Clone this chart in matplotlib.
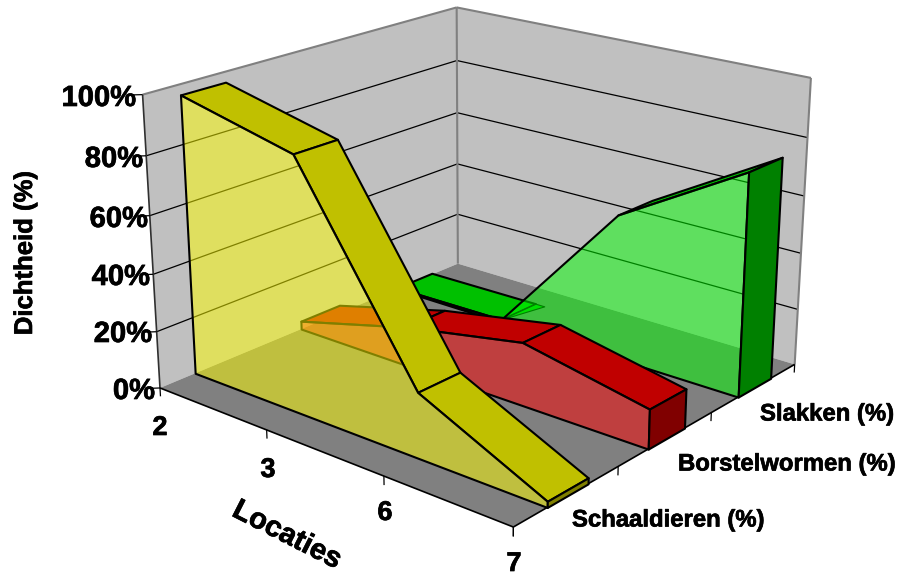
import numpy as np
import matplotlib
matplotlib.use('Agg')
import matplotlib.pyplot as plt
import matplotlib.patheffects as pe
from mpl_toolkits.mplot3d.art3d import Poly3DCollection

locations = ['2', '3', '6', '7']
series_names = ['Schaaldieren (%)', 'Borstelwormen (%)', 'Slakken (%)']
schaaldieren = [96.5, 87, 22, 2]
borstelwormen = [3, 14, 22, 13.5]
slakken = [0.5, 1, 51.5, 77]
z_ticks = [0, 20, 40, 60, 80, 100]

W, H = 898, 576
plt.rcParams['font.family'] = ['Liberation Sans', 'DejaVu Sans']
fig = plt.figure(figsize=(W/100, H/100), dpi=100, facecolor='white')
ax = fig.add_axes([(161+24.69)/W, 45.39/H, 576/W, 1], projection='3d')
ax.set_xlim(0, 3); ax.set_ylim(0, 3); ax.set_zlim(0, 100)
ax.view_init(19.91815, -50.02174, 0.02626)
ax.set_proj_type('persp', focal_length=float(np.exp(-0.42566)))
ax.set_box_aspect((1, float(np.exp(0.00498)), float(np.exp(-0.40301))), zoom=float(np.exp(0.19709)))
ax.set_axis_off()
ax.computed_zorder = False
ax.patch.set_alpha(0)
n = len(locations)
xs = np.arange(n)
zo = [1]

def poly(v, fc, ec='none', lw=0):
    c = Poly3DCollection([v], facecolors=[fc], edgecolors=[ec] if ec != 'none' else 'none', linewidths=lw, closed=True)
    c.set_zorder(zo[0]); zo[0] += 1
    c.set_clip_on(False)
    ax.add_collection3d(c, autolim=False)

def line(a, b, col='k', lw=0.9):
    ax.plot([a[0], b[0]], [a[1], b[1]], [a[2], b[2]], color=col, lw=lw, zorder=zo[0], clip_on=False,
            solid_capstyle='butt')
    zo[0] += 1

X, Y = xs[-1], n-1
# walls and floor
poly([(0, 0, 0), (0, Y, 0), (0, Y, 100), (0, 0, 100)], '#C0C0C0')
poly([(0, Y, 0), (X, Y, 0), (X, Y, 100), (0, Y, 100)], '#C0C0C0')
poly([(0, 0, 0), (X, 0, 0), (X, Y, 0), (0, Y, 0)], '#808080')
for z in z_ticks[1:-1]:
    line((0, 0, z), (0, Y, z)); line((0, Y, z), (X, Y, z))
G = '#808080'
line((0, 0, 100), (0, Y, 100), G, 1.5); line((0, Y, 100), (X, Y, 100), G, 1.5)
line((X, Y, 100), (X, Y, 0), G, 1.5); line((0, Y, 0), (0, Y, 100), G, 1.5)
line((0, 0, 0), (0, 0, 100), '#303030', 1.2)
line((0, 0, 0), (X, 0, 0), 'k', 1.2); line((X, 0, 0), (X, Y, 0), 'k', 1.2)
for z in z_ticks:
    line((0, 0, z), (-0.06, -0.06, z))
for x in xs:
    line((x, 0, 0), (x, 0, -3))
for y in range(n):
    line((X, y, 0), (X, y, -3))

front, depth = 0.31, 0.39
styles = {0: ('#C0C000', '#FFFF0080', '#808000'), 1: ('#C00000', '#FF000080', '#800000'), 2: ('#00C000', '#00FF0080', '#008000')}
for i, vals in reversed(list(enumerate([schaaldieren, borstelwormen, slakken]))):
    y0, y1 = i+front, i+front+depth
    top, face, cap = styles[i]
    for j in range(n-1):
        if i == 2 and j == 1:
            # the reference only shows a small wedge of this rising segment
            poly([(xs[j], y0, vals[j]), (xs[j], y1, vals[j]), (xs[j]+0.08, y1, vals[j])], top, 'k', 0.8)
            continue
        poly([(xs[j], y0, vals[j]), (xs[j+1], y0, vals[j+1]), (xs[j+1], y1, vals[j+1]), (xs[j], y1, vals[j])], top, 'k', 1.5)
    poly([(xs[j], y0, vals[j]) for j in range(n)] + [(X, y0, 0), (0, y0, 0)], face, 'k', 1.5)
    poly([(X, y0, 0), (X, y1, 0), (X, y1, vals[-1]), (X, y0, vals[-1])], cap, 'k', 1.5)

def txt(x, y, s, size, **kw):
    t = fig.text(x/W, 1-y/H, s, fontsize=size, fontweight='bold', va='center', **kw)
    t.set_path_effects([pe.withStroke(linewidth=0.5, foreground='black')])

for z, (rx, py) in zip(z_ticks[::-1], [(136, 98), (143, 159), (148, 219), (150, 277), (152, 334), (155, 391)]):
    txt(rx, py, f'{z}%', 21, ha='right')
for s, (px, py) in zip(locations, [(160, 428), (268, 470), (385, 513), (514, 564)]):
    txt(px, py, s, 19.5, ha='center')
for s, (px, py) in zip(series_names, [(572, 520), (678, 464), (760, 414)]):
    txt(px, py, s, 17.2, ha='left')
txt(25, 253, 'Dichtheid (%)', 18.5, ha='center', rotation=90)
txt(287, 535, 'Locaties', 21, ha='center', rotation=-27, rotation_mode='anchor')
fig.savefig('out.png', dpi=100)
